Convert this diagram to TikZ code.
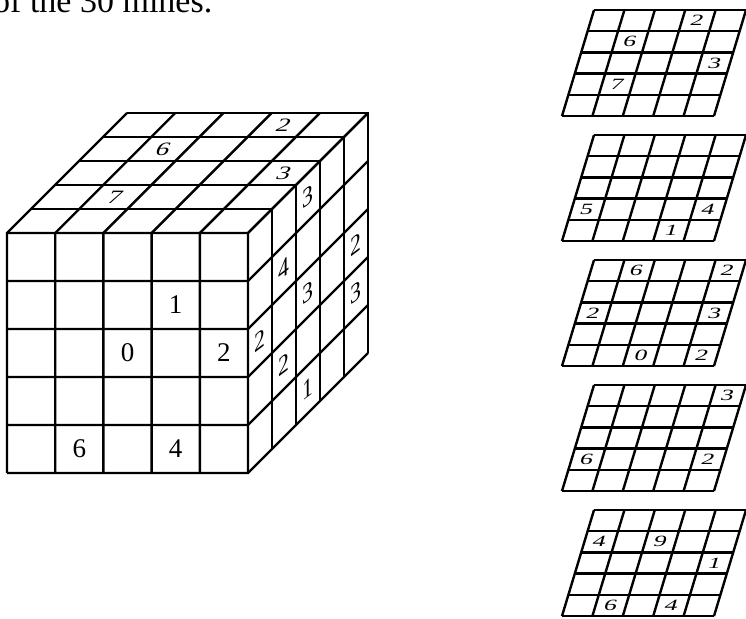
\documentclass[tikz,border=0pt]{standalone}
\usepackage{fontspec}
\setmainfont{Liberation Serif}
\begin{document}
\begin{tikzpicture}[x=1pt, y=-1pt, line width=2.4pt,
  frontnum/.style={font=\fontsize{27}{30}\selectfont},
  topnum/.style={font=\fontsize{27}{30}\selectfont, cm={1,0,0.3,0.7,(0,0)}},
  sidenum/.style={font=\fontsize{27}{30}\selectfont, cm={0.8,0.6,0,1,(0,0)}},
  layernum/.style={font=\fontsize{27}{30}\selectfont, cm={0.95,0,0.17,0.58,(0,0)}}]
\clip (0,0) rectangle (746,618);
\node[anchor=base west, inner sep=0, font=\fontsize{34}{38}\selectfont] (caption) at (-8,12.5) {of the 30 mines.};
\foreach \i in {0,...,5} \draw ({7+48.2*\i},473) -- ++(0,-240) -- ++(120,-120);
\foreach \j in {0,...,5} \draw (7,{233+48*\j}) -- ++(241,0) -- ++(120,-120);
\foreach \d in {1,...,5} \draw ({7+24*\d},{233-24*\d}) -- ++(241,0) -- ++(0,240);
\foreach \c/\r/\n in {4/2/1, 3/3/0, 5/3/2, 2/5/6, 4/5/4}
  \node[frontnum] (f\c\r) at ({7+48.2*\c-24.1}, {233+48*\r-24}) {\n};
\foreach \c/\k/\n in {4/1/2, 2/2/6, 5/3/3, 2/4/7}
  \node[topnum] (t\c\k) at ({7+48.2*\c-24.1+24*(5.5-\k)}, {233-24*(5.5-\k)}) {\n};
\foreach \e/\r/\n in {3/1/3, 2/2/4, 1/3/2, 3/3/3, 5/3/2, 5/4/3, 2/4/2, 3/5/1}
  \node[sidenum] (s\e\r) at ({236+24*\e}, {221+48*\r-24*\e}) {\n};
\foreach \L in {0,...,4} {
  \foreach \a in {0,...,5} \draw ({594+30.4*\a},{10+125*\L}) -- ++(-32,106);
  \foreach \b in {0,...,5} \draw ({594-6.4*\b},{10+125*\L+21.2*\b}) -- ++(152,0);
}
\foreach \L/\c/\k/\n in {0/4/1/2, 0/2/2/6, 0/5/3/3, 0/2/4/7,
    1/1/4/5, 1/5/4/4, 1/4/5/1,
    2/2/1/6, 2/5/1/2, 2/1/3/2, 2/5/3/3, 2/3/5/0, 2/5/5/2,
    3/5/1/3, 3/1/4/6, 3/5/4/2,
    4/1/2/4, 4/3/2/9, 4/5/3/1, 4/2/5/6, 4/4/5/4}
  \node[layernum] (l\L\c\k) at ({594+30.4*\c-15.2-6.4*\k+3.2}, {10+125*\L+21.2*\k-10.6}) {\n};
\end{tikzpicture}
\end{document}
